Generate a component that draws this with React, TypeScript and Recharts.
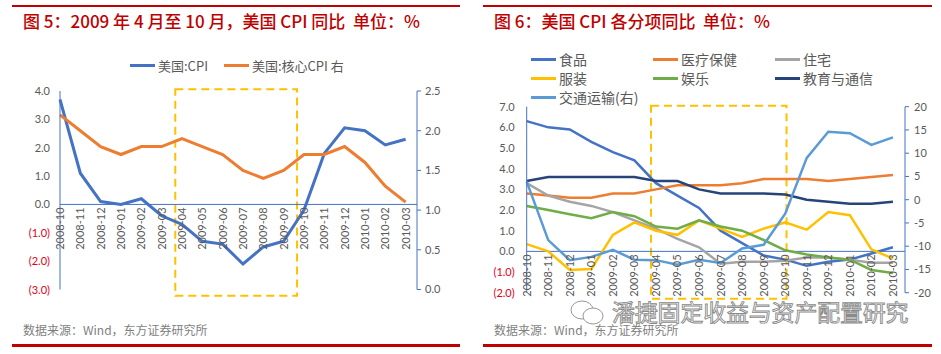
import React from 'react';
import { Line, LineChart, ReferenceArea, ReferenceLine, XAxis, YAxis } from 'recharts';

// shared categories
const months = [
  '2008-10', '2008-11', '2008-12', '2009-01', '2009-02', '2009-03', '2009-04', '2009-05', '2009-06',
  '2009-07', '2009-08', '2009-09', '2009-10', '2009-11', '2009-12', '2010-01', '2010-02', '2010-03'
];

// 图5 data
const cpi = [3.7, 1.1, 0.1, 0.0, 0.2, -0.4, -0.7, -1.3, -1.4, -2.1, -1.5, -1.3, -0.2, 1.8, 2.7, 2.6, 2.1, 2.3];
const coreCpi = [2.2, 2.0, 1.8, 1.7, 1.8, 1.8, 1.9, 1.8, 1.7, 1.5, 1.4, 1.5, 1.7, 1.7, 1.8, 1.6, 1.3, 1.1];
const leftTicks1 = [-3, -2, -1, 0, 1, 2, 3, 4];
const rightTicks1 = [0, 0.5, 1, 1.5, 2, 2.5];

// 图6 data
const food = [6.3, 6.0, 5.9, 5.3, 4.8, 4.4, 3.3, 2.7, 2.1, 1.0, 0.4, -0.2, -0.4, -0.7, -0.5, -0.4, -0.1, 0.2];
const medical = [2.8, 2.7, 2.6, 2.6, 2.8, 2.8, 3.0, 3.2, 3.2, 3.2, 3.3, 3.5, 3.5, 3.5, 3.4, 3.5, 3.6, 3.7];
const housing = [3.3, 2.7, 2.4, 2.2, 1.9, 1.5, 1.1, 0.6, 0.2, -0.6, -0.5, -0.5, -0.45, -0.3, -0.3, -0.4, -0.55, -0.55];
const apparel = [0.35, 0.0, -0.9, -0.85, 0.8, 1.4, 1.0, 0.8, 1.5, 1.1, 0.7, 1.1, 1.4, 1.05, 1.9, 1.75, 0.1, -0.35];
const recreation = [2.2, 2.0, 1.8, 1.6, 1.9, 1.7, 1.2, 1.1, 1.5, 1.2, 1.0, 0.55, 0.05, -0.15, -0.3, -0.4, -0.9, -1.05];
const eduComm = [3.4, 3.6, 3.6, 3.6, 3.6, 3.6, 3.4, 3.4, 3.0, 2.8, 2.8, 2.8, 2.75, 2.5, 2.4, 2.3, 2.3, 2.4];
const transport = [3.9, -8.7, -13.0, -12.3, -10.8, -12.9, -13.0, -14.0, -12.9, -13.6, -10.5, -9.7, -3.0, 9.0, 14.6, 14.3, 11.8, 13.4];
const leftTicks2 = [-2, -1, 0, 1, 2, 3, 4, 5, 6, 7];
const rightTicks2 = [-20, -15, -10, -5, 0, 5, 10, 15, 20];

const data1 = months.map((m, i) => ({ i, month: m, cpi: cpi[i], core: coreCpi[i] }));
const data2 = months.map((m, i) => ({
  i,
  month: m,
  food: food[i],
  medical: medical[i],
  housing: housing[i],
  apparel: apparel[i],
  recreation: recreation[i],
  eduComm: eduComm[i],
  transport: transport[i]
}));

const series1 = [
  { key: 'cpi', name: '美国:CPI', color: '#4472C4', axis: 'left' },
  { key: 'core', name: '美国:核心CPI 右', color: '#ED7D31', axis: 'right' }
];

const series2 = [
  { key: 'food', name: '食品', color: '#4472C4', axis: 'left' },
  { key: 'medical', name: '医疗保健', color: '#ED7D31', axis: 'left' },
  { key: 'housing', name: '住宅', color: '#A5A5A5', axis: 'left' },
  { key: 'apparel', name: '服装', color: '#FFC000', axis: 'left' },
  { key: 'recreation', name: '娱乐', color: '#70AD47', axis: 'left' },
  { key: 'eduComm', name: '教育与通信', color: '#264478', axis: 'left' },
  { key: 'transport', name: '交通运输(右)', color: '#5B9BD5', axis: 'right' }
];

const FONT = 'Lato, "Noto Sans CJK SC", sans-serif';
const CJK = '"Noto Sans CJK SC", sans-serif';
const AXIS = '#4472C4';
const RED = '#C00000';
const GREY = '#595959';
const X_MAX = 17.56;

const LeftTick = (props: any) => {
  const { x, y, payload } = props;
  const v = payload.value as number;
  const neg = v < 0;
  return (
    <text x={x} y={y} dy={4} textAnchor="end" fontSize={11} fontFamily={FONT} fill={neg ? '#E2001A' : GREY}>
      {neg ? `(${Math.abs(v).toFixed(1)})` : v.toFixed(1)}
    </text>
  );
};

const makeXTick = (zeroY: number) => (props: any) => {
  const { x, payload } = props;
  const label = months[payload.value] ?? '';
  const y0 = zeroY + 3;
  return (
    <text
      x={x}
      y={y0}
      dy={4}
      textAnchor="end"
      fontSize={11}
      fontFamily={FONT}
      fill={GREY}
      transform={`rotate(-90, ${x}, ${y0})`}
    >
      {label}
    </text>
  );
};

const Legend = ({
  items,
  style,
  columns
}: {
  items: { name: string; color: string }[];
  style: React.CSSProperties;
  columns?: string;
}) => (
  <div
    style={{
      position: 'absolute',
      display: columns ? 'grid' : 'flex',
      gridTemplateColumns: columns,
      fontFamily: CJK,
      color: GREY,
      ...style
    }}
  >
    {items.map((s) => (
      <div key={s.name} style={{ display: 'flex', alignItems: 'center', whiteSpace: 'nowrap' }}>
        <span style={{ display: 'inline-block', width: 25, height: 3, background: s.color, marginRight: 3 }} />
        {s.name}
      </div>
    ))}
  </div>
);

const Frame = ({ left, width, title }: { left: number; width: number; title: string }) => (
  <>
    <div style={{ position: 'absolute', left, top: 5, width, height: 2, background: RED }} />
    <div
      style={{
        position: 'absolute',
        left: left + 11,
        top: 8,
        fontFamily: CJK,
        fontSize: 17,
        fontWeight: 500,
        color: RED,
        whiteSpace: 'pre'
      }}
    >
      {title}
    </div>
    <div
      style={{
        position: 'absolute',
        left: left + 11,
        top: 323,
        fontFamily: CJK,
        fontSize: 12,
        lineHeight: '14px',
        color: '#7F7F7F'
      }}
    >
      数据来源：Wind，东方证券研究所
    </div>
    <div style={{ position: 'absolute', left, top: 344, width, height: 2.5, background: RED }} />
  </>
);

// 图5: plot from y=91 to y=289.5, domain [-3, 4]
const top1 = 91;
const bottom1 = 289.5;
const zero1 = top1 + ((bottom1 - top1) * 4) / 7;

// 图6: plot from y=106.7 to y=292.7, domain [-2, 7]
const top2 = 106.7;
const bottom2 = 292.7;
const zero2 = top2 + ((bottom2 - top2) * 7) / 9;

const Chart5 = () => (
  <div style={{ position: 'absolute', left: 0, top: 0, width: 470, height: 354 }}>
    <Frame left={12} width={448} title={'图 5：2009 年 4 月至 10 月，美国 CPI 同比  单位：%'} />
    <Legend items={series1} style={{ left: 130, top: 56, fontSize: 13, gap: 16 }} />
    <div style={{ position: 'absolute', left: 0, top: 0 }}>
      <LineChart width={470} height={354} data={data1} margin={{ top: top1, right: 13, bottom: 354 - bottom1 - 1, left: 10 }}>
        <XAxis
          type="number"
          dataKey="i"
          domain={[0, X_MAX]}
          ticks={months.map((_, i) => i)}
          interval={0}
          height={1}
          axisLine={false}
          tickLine={false}
          tick={makeXTick(zero1)}
        />
        <YAxis
          yAxisId="left"
          domain={[-3, 4]}
          ticks={leftTicks1}
          interval={0}
          width={50}
          axisLine={{ stroke: AXIS }}
          tickLine={false}
          tickSize={6}
          tickMargin={4}
          tick={LeftTick}
        />
        <YAxis
          yAxisId="right"
          orientation="right"
          domain={[0, 2.5]}
          ticks={rightTicks1}
          interval={0}
          width={40}
          axisLine={{ stroke: AXIS }}
          tickLine={{ stroke: AXIS }}
          tickSize={4}
          tickMargin={4}
          tick={{ fontSize: 11, fill: GREY, fontFamily: FONT }}
          tickFormatter={(v: number) => v.toFixed(1)}
        />
        <ReferenceLine yAxisId="left" y={0} stroke={AXIS} />
        <ReferenceArea
          yAxisId="left"
          x1={5.67}
          x2={11.66}
          y1={-3.22}
          y2={4.06}
          ifOverflow="visible"
          fill="none"
          stroke="#FFC000"
          strokeWidth={2}
          strokeDasharray="8 5"
        />
        {series1.map((s) => (
          <Line
            key={s.key}
            yAxisId={s.axis}
            type="linear"
            dataKey={s.key}
            name={s.name}
            stroke={s.color}
            strokeWidth={3}
            dot={false}
            isAnimationActive={false}
          />
        ))}
      </LineChart>
    </div>
  </div>
);

const Chart6 = () => (
  <div style={{ position: 'absolute', left: 470, top: 0, width: 471, height: 354 }}>
    <Frame left={13} width={449} title={'图 6：美国 CPI 各分项同比  单位：%'} />
    <Legend
      items={series2}
      columns="122px 122px 140px"
      style={{ left: 61, top: 50, fontSize: 14, lineHeight: '19px' }}
    />
    <div style={{ position: 'absolute', left: 0, top: 0 }}>
      <LineChart width={471} height={354} data={data2} margin={{ top: top2, right: 6, bottom: 354 - bottom2 - 1, left: 10 }}>
        <XAxis
          type="number"
          dataKey="i"
          domain={[0, X_MAX]}
          ticks={months.map((_, i) => i)}
          interval={0}
          height={1}
          axisLine={false}
          tickLine={false}
          tick={makeXTick(zero2)}
        />
        <YAxis
          yAxisId="left"
          domain={[-2, 7]}
          ticks={leftTicks2}
          interval={0}
          width={46.7}
          axisLine={{ stroke: AXIS }}
          tickLine={false}
          tickSize={6}
          tickMargin={6}
          tick={LeftTick}
        />
        <YAxis
          yAxisId="right"
          orientation="right"
          domain={[-20, 20]}
          ticks={rightTicks2}
          interval={0}
          width={30}
          axisLine={{ stroke: AXIS }}
          tickLine={{ stroke: AXIS }}
          tickSize={4}
          tickMargin={5}
          tick={{ fontSize: 11, fill: GREY, fontFamily: FONT }}
        />
        <ReferenceLine yAxisId="left" y={0} stroke={AXIS} />
        <ReferenceArea
          yAxisId="left"
          x1={5.77}
          x2={12.06}
          y1={-2.29}
          y2={7.05}
          ifOverflow="visible"
          fill="none"
          stroke="#FFC000"
          strokeWidth={2}
          strokeDasharray="8 5"
        />
        {series2.map((s) => (
          <Line
            key={s.key}
            yAxisId={s.axis}
            type="linear"
            dataKey={s.key}
            name={s.name}
            stroke={s.color}
            strokeWidth={2.5}
            dot={false}
            isAnimationActive={false}
          />
        ))}
      </LineChart>
    </div>
    {/* watermark */}
    <svg style={{ position: 'absolute', left: 98, top: 298 }} width={40} height={28}>
      <ellipse cx={14} cy={12} rx={11} ry={9} fill="white" stroke="#999" strokeWidth={1} />
      <ellipse cx={25} cy={18} rx={10} ry={8} fill="white" stroke="#999" strokeWidth={1} />
    </svg>
    <div
      style={{
        position: 'absolute',
        left: 142,
        top: 300,
        fontFamily: CJK,
        fontSize: 23,
        lineHeight: '23px',
        color: 'white',
        WebkitTextStroke: '0.9px #8a8a8a',
        whiteSpace: 'nowrap',
        letterSpacing: -0.2
      }}
    >
      潘捷固定收益与资产配置研究
    </div>
  </div>
);

export default function App() {
  return (
    <div style={{ position: 'absolute', left: 0, top: 0, width: 941, height: 354, background: '#fff', overflow: 'hidden' }}>
      <Chart5 />
      <Chart6 />
    </div>
  );
}
